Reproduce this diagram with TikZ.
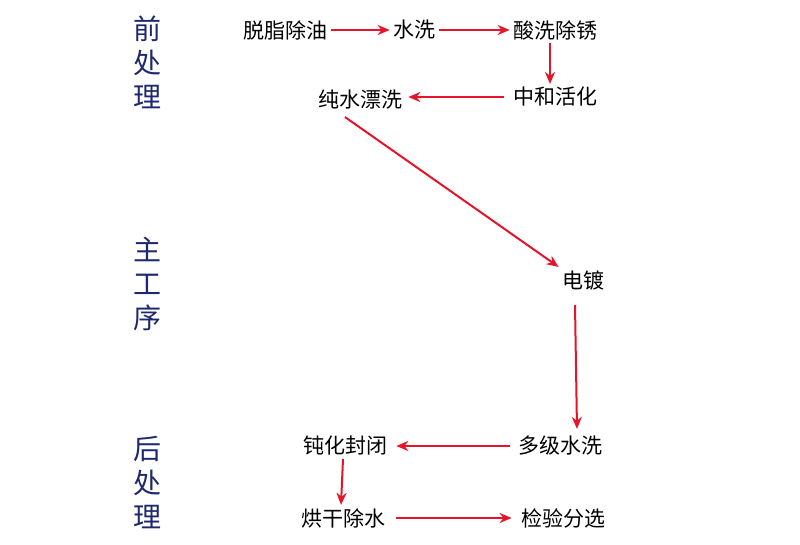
\documentclass[tikz,border=0pt]{standalone}
\usepackage{fontspec}
\setmainfont{Noto Sans CJK SC}
\usetikzlibrary{arrows.meta}
\definecolor{navy}{RGB}{30,40,110}
\definecolor{arrred}{RGB}{230,20,40}
\tikzset{every picture/.style={line width=0.75pt}}
\tikzset{step box/.style={inner sep=1pt,font=\fontsize{21}{21}\selectfont},
  stage/.style={font=\fontsize{28}{34}\selectfont,text=navy,align=center},
  flow/.style={arrred,line width=2pt,-{Stealth[length=12pt,width=10pt]}}}
\begin{document}
\begin{tikzpicture}[x=1pt,y=1pt,yscale=-1,xscale=1]
\useasboundingbox (0,0) rectangle (800,545);
\fill[white] (0,0) rectangle (800,545);

% Stage labels
\node[stage] (pre) at (147,62) {前\\处\\理};
\node[stage] (main) at (147,284) {主\\工\\序};
\node[stage] (post) at (147,483) {后\\处\\理};

% Steps
\node[step box] (degrease) at (285,30) {脱脂除油};
\node[step box] (rinse) at (414,30) {水洗};
\node[step box] (pickle) at (555,30) {酸洗除锈};
\node[step box] (neutral) at (555,97) {中和活化};
\node[step box] (purerinse) at (360,100) {纯水漂洗};
\node[step box] (plate) at (583,280) {电镀};
\node[step box] (multirinse) at (560,446) {多级水洗};
\node[step box] (passivate) at (345,446) {钝化封闭};
\node[step box] (dry) at (343,518) {烘干除水};
\node[step box] (inspect) at (563,518) {检验分选};

% Arrows
\draw[flow] (degrease.east) ++(3,0) -- ([xshift=-2pt]rinse.west);
\draw[flow] (rinse.east) ++(3,0) -- ([xshift=-2pt]pickle.west);
\draw[flow] ([xshift=-5pt,yshift=2pt]pickle.south) -- ([xshift=-5pt,yshift=-2pt]neutral.north);
\draw[flow] ([xshift=-8pt]neutral.west) -- ([xshift=5pt,yshift=-3pt]purerinse.east);
\draw[flow] ([xshift=-15pt,yshift=6pt]purerinse.south) -- ([xshift=-2pt,yshift=-2pt]plate.north west);
\draw[flow] ([xshift=-8pt,yshift=14pt]plate.south) -- ([xshift=17pt,yshift=-6pt]multirinse.north);
\draw[flow] ([xshift=-7pt]multirinse.west) -- ([xshift=8pt]passivate.east);
\draw[flow] ([xshift=-2pt,yshift=2pt]passivate.south) -- ([xshift=-2pt,yshift=-2pt]dry.north);
\draw[flow] ([xshift=10pt]dry.east) -- ([xshift=-8pt]inspect.west);
\end{tikzpicture}
\end{document}
